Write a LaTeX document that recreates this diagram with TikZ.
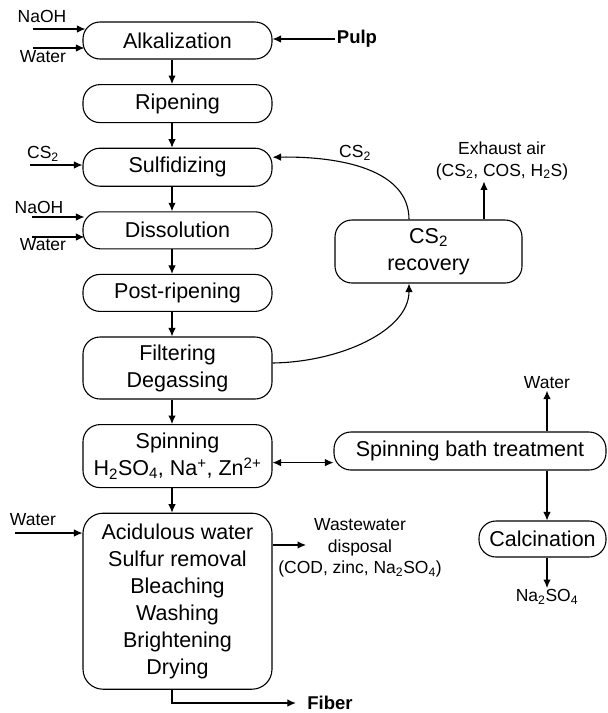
\documentclass[tikz,border=0pt]{standalone}
\usepackage{fontspec}
\setmainfont{Liberation Sans}
\usetikzlibrary{arrows.meta,positioning}

\tikzset{
  procbox/.style={draw, line width=1.1pt, rounded corners=17pt, minimum width=189pt, minimum height=37pt, inner sep=2pt, align=center, font=\fontsize{21.5}{27}\selectfont},
  flowlbl/.style={inner sep=1pt, align=center, font=\fontsize{17.5}{21.5}\selectfont},
  endlbl/.style={inner sep=1pt, font=\fontsize{18.5}{22}\selectfont\bfseries}
}

\begin{document}
\begin{tikzpicture}[x=1pt, y=-1pt, line width=1.1pt, >={Latex[length=8.5pt,width=7.5pt]}]
\useasboundingbox (0,0) rectangle (608,713);

\node (alk) at (177.5,40.5) [procbox] {Alkalization};
\node (rip) [procbox, minimum height=38pt, below=24.5pt of alk] {Ripening};
\node (sulf) [procbox, minimum height=38pt, below=24.5pt of rip] {Sulfidizing};
\node (diss) [procbox, below=24.5pt of sulf] {Dissolution};
\node (post) [procbox, below=24.5pt of diss] {Post-ripening};
\node (filt) [procbox, minimum height=62pt, below=24.5pt of post] {Filtering\\Degassing};
\node (spin) [procbox, minimum height=63pt, below=24.5pt of filt] {Spinning\\H\textsubscript{2}SO\textsubscript{4}, Na\textsuperscript{+}, Zn\textsuperscript{2+}};
\node (acid) [procbox, rounded corners=20pt, minimum height=176pt, below=24.5pt of spin] {Acidulous water\\Sulfur removal\\Bleaching\\Washing\\Brightening\\Drying};

\foreach \a/\b in {alk/rip, rip/sulf, sulf/diss, diss/post, post/filt, filt/spin, spin/acid}
  \draw [->] ([xshift=-5.5pt]\a.south) -- ([xshift=-5.5pt]\b.north);

\node (rec) at (428.5,251.5) [procbox, minimum width=187pt, minimum height=63pt] {CS\textsubscript{2}\\recovery};
\node (stb) at (470,451) [procbox, minimum width=272pt, minimum height=38pt] {Spinning bath treatment};
\node (calc) at (542.5,539) [procbox, minimum width=127pt, minimum height=36pt] {Calcination};

\node (pulp) at (357,39) [endlbl] {Pulp};
\draw [->] (pulp.west) -- (pulp.west -| alk.east);

\node (alk_naoh) at (42,16) [flowlbl] {NaOH};
\node (alk_water) at (43,57) [flowlbl] {Water};
\coordinate (alk_naoh_in) at (33,29);
\coordinate (alk_water_in) at (33,48);
\draw [->] (alk_naoh_in) -- ([xshift=3pt]alk_naoh_in -| alk.west);
\draw [->] (alk_water_in) -- ([xshift=2pt]alk_water_in -| alk.west);

\node (sulf_cs) at (43,154) [flowlbl] {CS\textsubscript{2}};
\coordinate (sulf_cs_in) at (30,165);
\draw [->] (sulf_cs_in) -- (sulf_cs_in -| sulf.west);

\node (diss_naoh) at (39,207) [flowlbl] {NaOH};
\node (diss_water) at (43,245) [flowlbl] {Water};
\coordinate (diss_naoh_in) at (32,217);
\coordinate (diss_water_in) at (32,237);
\draw [->] (diss_naoh_in) -- ([xshift=2pt]diss_naoh_in -| diss.west);
\draw [->] (diss_water_in) -- ([xshift=2pt]diss_water_in -| diss.west);

\node (acid_water) at (33,520) [flowlbl] {Water};
\coordinate (acid_water_in) at (15,533);
\draw [->] (acid_water_in) -- (acid_water_in -| acid.west);

\node (rec_cs) at (355,153) [flowlbl] {CS\textsubscript{2}};
\draw [->] ([xshift=-19.5pt]rec.north) .. controls +(0,-50) and +(68,-1) .. ([yshift=10pt]sulf.east);
\draw [->] ([yshift=5pt]filt.east) .. controls +(68,-1) and +(0,47) .. ([xshift=-19.5pt]rec.south);

\node (exhaust) at (502,161) [flowlbl] {Exhaust air\\(CS\textsubscript{2}, COS, H\textsubscript{2}S)};
\draw [->] ([xshift=55.5pt]rec.north) -- ([xshift=55.5pt]rec.north |- exhaust.south);

\draw [<->] ([yshift=-6.5pt]spin.east) -- ([yshift=-6.5pt]spin.east -| stb.west);

\node (stb_water) at (547,383) [flowlbl] {Water};
\draw [->] (stb_water.south |- stb.north) -- (stb_water.south);
\draw [->] ([xshift=77pt]stb.south) -- ([xshift=77pt]stb.south |- calc.north);

\node (calc_na) at (547,597) [flowlbl] {Na\textsubscript{2}SO\textsubscript{4}};
\draw [->] (calc_na.north |- calc.south) -- (calc_na.north);

\node (waste) at (360,548) [flowlbl] {Wastewater\\disposal\\(COD, zinc, Na\textsubscript{2}SO\textsubscript{4})};
\coordinate (waste_in) at (306,545);
\draw [->] (waste_in -| acid.east) -- (waste_in);

\node (fiber) at (330,703) [endlbl] {Fiber};
\draw [->] ([xshift=-5.5pt]acid.south) |- ([xshift=-10pt]fiber.west);

\end{tikzpicture}
\end{document}
